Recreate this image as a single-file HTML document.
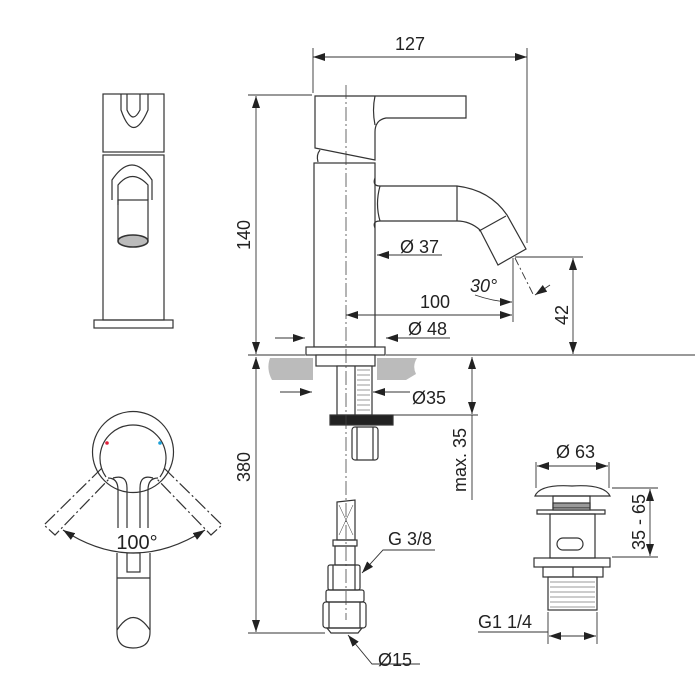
<!DOCTYPE html>
<html><head><meta charset="utf-8"><style>
html,body{margin:0;padding:0;background:#fff;}
svg{display:block;}
text{font-family:"Liberation Sans",sans-serif;fill:#222;}
</style></head><body>
<svg width="700" height="700" viewBox="0 0 700 700" xmlns="http://www.w3.org/2000/svg">
<defs>
<marker id="a" markerWidth="12" markerHeight="8" refX="12" refY="4" orient="auto" markerUnits="userSpaceOnUse"><path d="M0,0 L12,4 L0,8 Z" fill="#222"/></marker>
<marker id="s" markerWidth="12" markerHeight="8" refX="0" refY="4" orient="auto" markerUnits="userSpaceOnUse"><path d="M12,0 L0,4 L12,8 Z" fill="#222"/></marker>
</defs>
<g fill="none" stroke="#333" stroke-width="1.2">
<path d="M270,358 L313,358 L313,380 L272,380 Q266,369 270,358Z" fill="#bbb" stroke="none"/>
<path d="M377,358 L417,358 Q412,366 416,374 L406,380 L377,380Z" fill="#bbb" stroke="none"/>
<path d="M315,96 L466,96 L466,118 L386,118 Q375,120 375,132 L375,160 L315,148 Z" fill="#fff"/>
<path d="M375,96 Q372,110 375,125"/>
<path d="M320,150 Q316,155 318,162"/>
<rect x="314" y="163" width="61" height="184" fill="#fff"/>
<path d="M380,186 L457,186 Q490,190 507,215 L526,249 L498,265 L480,230 Q470,221 457,221 L380,221"/>
<path d="M375,178 Q372,186 380,186 M375,228 Q372,221 380,221 M380,186 Q375,204 380,221"/>
<path d="M457,186 L457,221 M479,231 L506,216"/>
<rect x="306" y="347" width="79" height="8" fill="#fff"/>
<rect x="316" y="355" width="59" height="11" fill="#fff"/>
<rect x="337" y="366" width="35" height="49" fill="#fff"/>
<path d="M355,366 L355,415" />
<path d="M357,370 L370,370 M357,375 L370,375 M357,380 L370,380 M357,385 L370,385 M357,390 L370,390 M357,395 L370,395 M357,400 L370,400 M357,405 L370,405 M357,410 L370,410" stroke-width="0.6"/>
<rect x="330" y="415" width="63" height="10" fill="#222"/>
<rect x="352" y="427" width="26" height="33" rx="3" fill="#fff"/>
<path d="M357,427 L357,460 M373,427 L373,460"/>
<path d="M337,502 L355,500 L355,540 L337,540 Z"/>
<path d="M339,505 L353,535 M353,505 L339,535" stroke-width="0.5"/>
<rect x="333" y="540" width="24" height="6"/>
<rect x="335" y="546" width="20" height="19"/>
<rect x="328" y="565" width="32" height="25" rx="2"/>
<path d="M333,565 L333,590 M355,565 L355,590"/>
<rect x="326" y="590" width="38" height="12" rx="2"/>
<rect x="323" y="602" width="43" height="26" rx="3"/>
<path d="M329,602 L329,628 M360,602 L360,628"/>
<path d="M327,628 L362,628 L358,633 L331,633Z"/>
<rect x="103" y="94" width="61" height="58"/>
<path d="M121,94 L121,110 Q133,145 148,110 L148,94"/>
<path d="M127,94 L127,110 Q133,124 140,110 L140,94"/>
<rect x="103" y="155" width="61" height="165"/>
<path d="M112,200 L112,180 Q132,150 152,180 L152,200"/>
<path d="M118,205 L118,185 Q132,168 148,185 L148,200"/>
<rect x="118" y="200" width="30" height="40"/>
<ellipse cx="133" cy="241" rx="15" ry="6" fill="#bbb" stroke-width="1.6"/>
<rect x="94" y="320" width="79" height="8"/>
<!-- top view -->
<circle cx="133" cy="452" r="40.5"/>
<path d="M106,477 A33,33 0 1 1 160,477"/>
<path d="M108,478 Q118,478 118,490 L118,528 M158,478 Q148,478 148,490 L148,528"/>
<path d="M113,478 Q127,474 127,488 L127,528 M153,478 Q140,474 140,488 L140,528"/>
<path d="M102,468 L44,525 L55,535 L110,478" stroke-dasharray="14,3,2,3"/>
<path d="M164,468 L222,525 L211,535 L156,478" stroke-dasharray="14,3,2,3"/>
<path d="M63,530 Q133,576 205,530" marker-start="url(#s)" marker-end="url(#a)"/>
<rect x="127" y="553" width="13" height="19"/>
<path d="M117,553 L117,632 Q117,648 133,648 Q150,648 150,632 L150,553"/>
<path d="M117,578 L150,578"/>
<path d="M117,630 Q133,605 150,630"/>
<!-- drain -->
<path d="M535,496 Q540,484 572,486 Q604,484 610,496 Z"/>
<rect x="553" y="496" width="37" height="14"/>
<rect x="553" y="503" width="37" height="5" fill="#999"/>
<path d="M537,510 L605,510 L605,514 L537,514Z"/>
<rect x="550" y="514" width="45" height="44"/>
<rect x="557" y="538" width="26" height="12" rx="6"/>
<rect x="534" y="558" width="76" height="9"/>
<rect x="543" y="567" width="60" height="10"/>
<path d="M573,567 L573,577"/>
<rect x="548" y="577" width="49" height="33"/>
<path d="M550,582 L595,582 M550,587 L595,587 M550,592 L595,592 M550,597 L595,597 M550,602 L595,602 M550,607 L595,607" stroke-width="0.5"/>
</g>
<path d="M346,85 L346,620" stroke="#444" stroke-width="0.8" fill="none" stroke-dasharray="14,3,2,3"/>
<g fill="none" stroke="#333" stroke-width="0.9">
<path d="M313,48 L313,93 M527,48 L527,243 M248,95 L312,95 M248,355 L305,355 M386,355 L695,355 M513,258 L513,322 M515,257 L583,257 M248,633 L325,633 M380,415 L478,415 M472,415 L472,500 M536,462 L536,488 M609,462 L609,488 M612,488 L658,488 M612,557 L658,557 M548,612 L548,644 M597,612 L597,644 M478,632 L548,632"/>
<path d="M313,57 L527,57" marker-start="url(#s)" marker-end="url(#a)"/>
<path d="M256,96 L256,354" marker-start="url(#s)" marker-end="url(#a)"/>
<path d="M256,357 L256,632" marker-start="url(#s)" marker-end="url(#a)"/>
<path d="M346,315 L512,315" marker-start="url(#s)" marker-end="url(#a)"/>
<path d="M573,258 L573,354" marker-start="url(#s)" marker-end="url(#a)"/>
<path d="M472,357 L472,414" marker-start="url(#s)" marker-end="url(#a)"/>
<path d="M442,255 L377,255" marker-end="url(#a)"/>
<path d="M275,338 L305,338" marker-end="url(#a)"/>
<path d="M450,338 L386,338" marker-end="url(#a)"/>
<path d="M280,392 L312,392" marker-end="url(#a)"/>
<path d="M410,392 L373,392" marker-end="url(#a)"/>
<path d="M537,466 L608,466" marker-start="url(#s)" marker-end="url(#a)"/>
<path d="M650,489 L650,556" marker-start="url(#s)" marker-end="url(#a)"/>
<path d="M549,636 L596,636" marker-start="url(#s)" marker-end="url(#a)"/>
<path d="M515,258 L534,296" stroke-dasharray="8,3,2,3"/>
<path d="M475,295 Q495,302 512,302" marker-end="url(#a)"/>
<path d="M550,285 L535,295" marker-end="url(#a)"/>
<path d="M435,550 L383,550 L362,573" marker-end="url(#a)"/>
<path d="M420,664 L372,664 L348,635" marker-end="url(#a)"/>
</g>
<circle cx="107" cy="443" r="1.8" fill="#e0203a"/>
<circle cx="160" cy="443" r="1.8" fill="#1aa0d8"/>
<g font-size="18">
<text x="410" y="50" text-anchor="middle">127</text>
<text x="400" y="253">Ø 37</text>
<text x="435" y="308" text-anchor="middle">100</text>
<text x="408" y="335">Ø 48</text>
<text x="470" y="292" font-style="italic">30°</text>
<text x="412" y="404">Ø35</text>
<text x="388" y="545">G 3/8</text>
<text x="378" y="666">Ø15</text>
<text x="556" y="458">Ø 63</text>
<text x="478" y="628">G1 1/4</text>
<text x="137" y="549" text-anchor="middle" font-size="20">100°</text>
<text transform="translate(250,235) rotate(-90)" text-anchor="middle">140</text>
<text transform="translate(250,467) rotate(-90)" text-anchor="middle">380</text>
<text transform="translate(568,315) rotate(-90)" text-anchor="middle">42</text>
<text transform="translate(466,460) rotate(-90)" text-anchor="middle">max. 35</text>
<text transform="translate(645,522) rotate(-90)" text-anchor="middle">35 - 65</text>
</g>
</svg>
</body></html>
